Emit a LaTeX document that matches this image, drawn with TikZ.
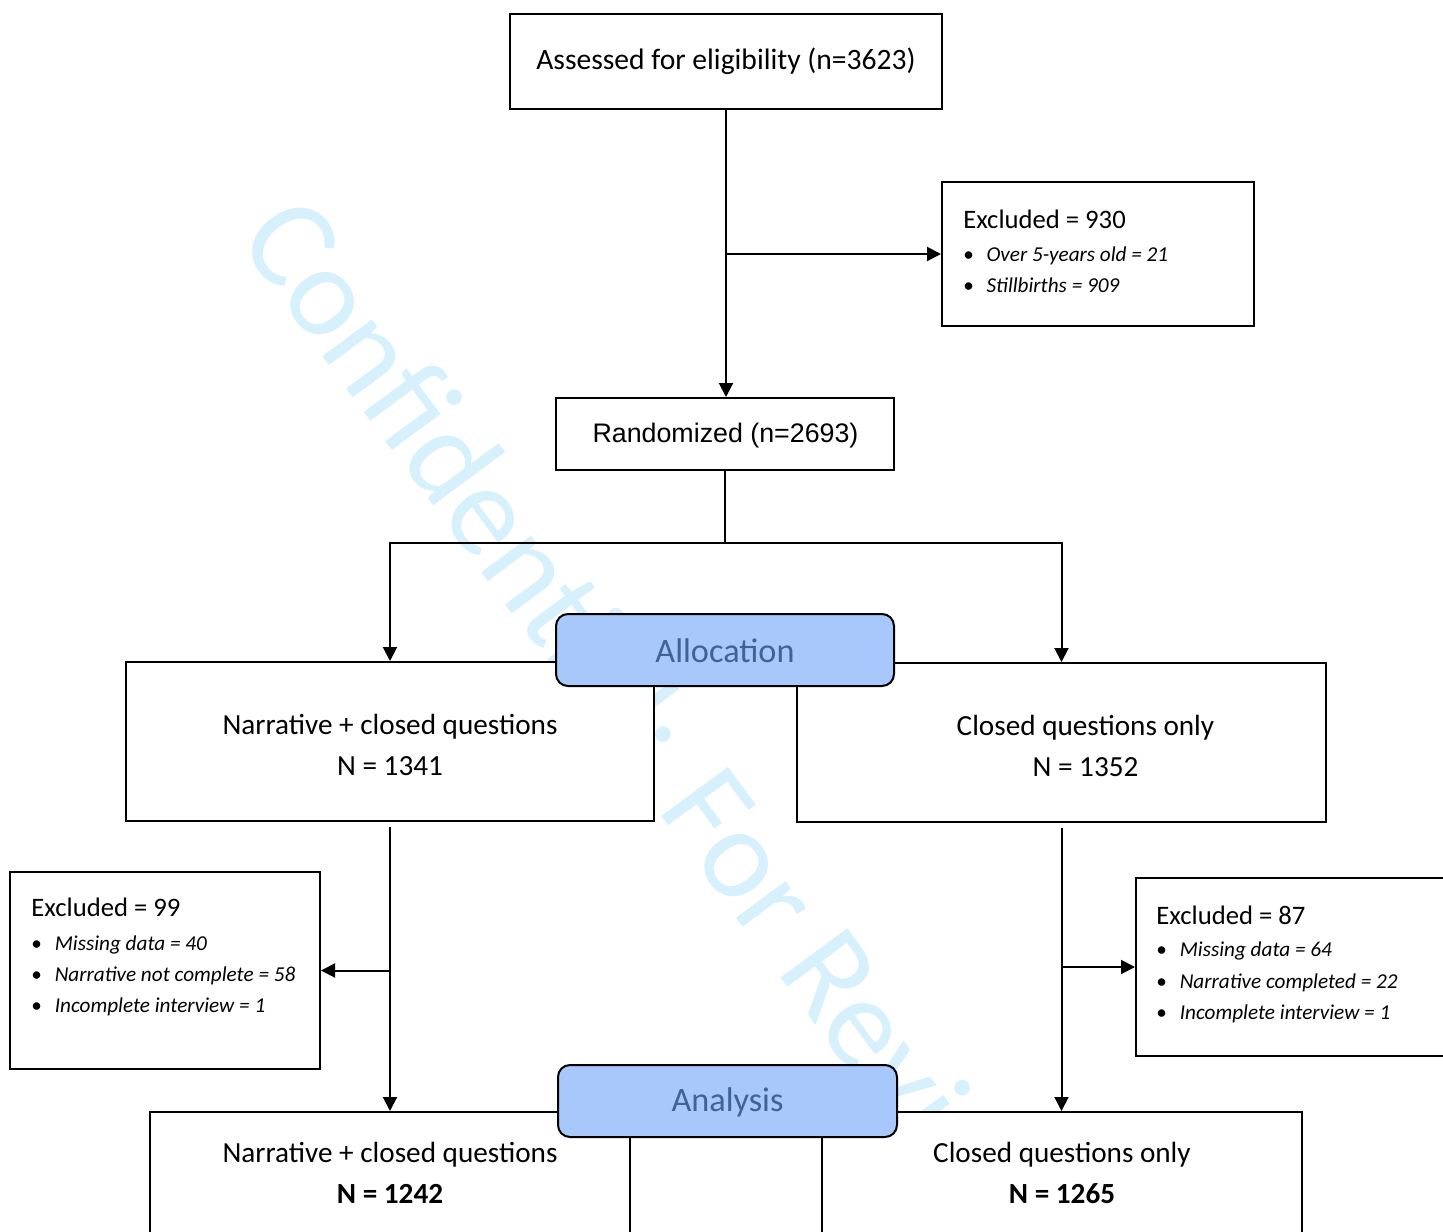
\documentclass[tikz,border=0pt]{standalone}
\usepackage{fontspec}
\setmainfont{Carlito}
\newfontfamily\arialfont{Liberation Sans}
\usetikzlibrary{arrows.meta}

\definecolor{wmblue}{RGB}{214,240,252}
\definecolor{phasefill}{RGB}{168,199,250}
\definecolor{phasetext}{RGB}{62,99,148}

\tikzset{
  flowbox/.style={draw, line width=1.5pt, fill=white, inner sep=0pt},
  phasebox/.style={draw, line width=1.5pt, rounded corners=9pt, fill=phasefill, inner sep=0pt, minimum height=54pt},
  phasetxt/.style={text=phasetext, inner sep=0pt, font=\fontsize{25.7}{30}\selectfont},
  armtext/.style={align=center, font=\fontsize{21.9}{30.75}\selectfont},
  headtext/.style={anchor=base west, inner sep=0pt, font=\fontsize{20}{24}\selectfont},
  itemtext/.style={anchor=base west, inner sep=0pt, font=\fontsize{15.9}{19}\selectfont\itshape},
  link/.style={line width=1.5pt},
  arr/.style={line width=1.5pt, -{Triangle[length=10.5pt,width=10.5pt]}},
}
\newcommand{\bul}[1]{\makebox[17.5pt][l]{\upshape •}#1}

\begin{document}
\begin{tikzpicture}[x=0.75pt,y=0.75pt,yscale=-1]
\useasboundingbox (0,0) rectangle (1443,1232);

% Watermark
\node [anchor=base west, inner sep=0pt, rotate=-53.6, text=wmblue, font=\fontsize{97}{97}\selectfont] (wm) at (236,239) {Confidential: For Review Only};

%Shape: Rectangle
\node [flowbox, minimum width=324pt, minimum height=71.25pt, font=\fontsize{22.2}{26}\selectfont] (assess) at (726,61.5) {Assessed for eligibility (n=3623)};
%Shape: Rectangle
\node [flowbox, minimum width=234pt, minimum height=108pt] (excl1) at (1098,254) {};
% Text Node
\node [headtext] (excl1head) at (963,228.5) {Excluded = 930};
\node [itemtext] (excl1a) at (963,261) {\bul{Over 5-years old = 21}};
\node [itemtext] (excl1b) at (963,292.7) {\bul{Stillbirths = 909}};

%Shape: Rectangle
\node [flowbox, minimum width=253.5pt, minimum height=54pt] (rand) at (725,434) {};
% Text Node
\node [inner sep=0pt, font=\arialfont\fontsize{20.1}{24}\selectfont] (randtxt) at (725.5,436) {Randomized (n=2693)};

%Shape: Rectangle
\node [flowbox, minimum width=396pt, minimum height=119.25pt] (narr) at (390,741.5) {};
\node [flowbox, minimum width=396.75pt, minimum height=119.25pt] (closed) at (1061.5,742.5) {};
% Text Node
\node [armtext] (narrtxt) at (390,744.5) {Narrative + closed questions\\N = 1341};
\node [armtext] (closedtxt) at (1085.5,745.5) {Closed questions only\\N = 1352};

%Shape: Rectangle
\node [flowbox, minimum width=232.5pt, minimum height=147.75pt] (excl2) at (165,970.5) {};
% Text Node
\node [headtext] (excl2head) at (31.2,916.7) {Excluded = 99};
\node [itemtext] (excl2a) at (31.2,950.7) {\bul{Missing data = 40}};
\node [itemtext] (excl2b) at (31.2,981.7) {\bul{Narrative not complete = 58}};
\node [itemtext] (excl2c) at (31.2,1012.3) {\bul{Incomplete interview = 1}};

%Shape: Rectangle
\node [flowbox, minimum width=243pt, minimum height=133.5pt] (excl3) at (1298,967) {};
% Text Node
\node [headtext] (excl3head) at (1156.2,924) {Excluded = 87};
\node [itemtext] (excl3a) at (1156.2,956) {\bul{Missing data = 64}};
\node [itemtext] (excl3b) at (1156.2,988.3) {\bul{Narrative completed = 22}};
\node [itemtext] (excl3c) at (1156.2,1019.3) {\bul{Incomplete interview = 1}};

%Shape: Rectangle
\node [flowbox, minimum width=360pt, minimum height=120pt] (narr2) at (390,1192) {};
\node [flowbox, minimum width=360pt, minimum height=120pt] (closed2) at (1062,1192) {};
% Text Node
\node [armtext] (narr2txt) at (390,1172.5) {Narrative + closed questions\\\textbf{N = 1242}};
\node [armtext] (closed2txt) at (1062,1172.5) {Closed questions only\\\textbf{N = 1265}};

%Straight Lines
\draw [arr] (assess.south) -- (assess.south |- rand.north);
\draw [arr] (assess.south |- excl1.west) -- (excl1.west);
\path (rand.south) ++(0,72) coordinate (split);
\draw [link] (rand.south) -- (split);
\draw [arr] (split) -| (narr.north);
\draw [arr] (split) -| (closed.north);
\draw [arr, shorten <=3.75pt] (narr.south) -- (narr2.north);
\draw [arr, shorten <=3.75pt] (closed.south) -- (closed.south |- closed2.north);
\draw [arr] (narr.south |- excl2.east) -- (excl2.east);
\draw [arr] (closed.south |- excl3.west) -- (excl3.west);

%Rounded Rect
\node [phasebox, minimum width=253.5pt] (alloc) at (725,650) {};
\node [phasebox, minimum width=254.25pt] (analysis) at (727.5,1101) {};
% Text Node
\node [phasetxt] (alloctxt) at (725,651) {Allocation};
\node [phasetxt] (analysistxt) at (727.5,1102.5) {Analysis};

\end{tikzpicture}
\end{document}
